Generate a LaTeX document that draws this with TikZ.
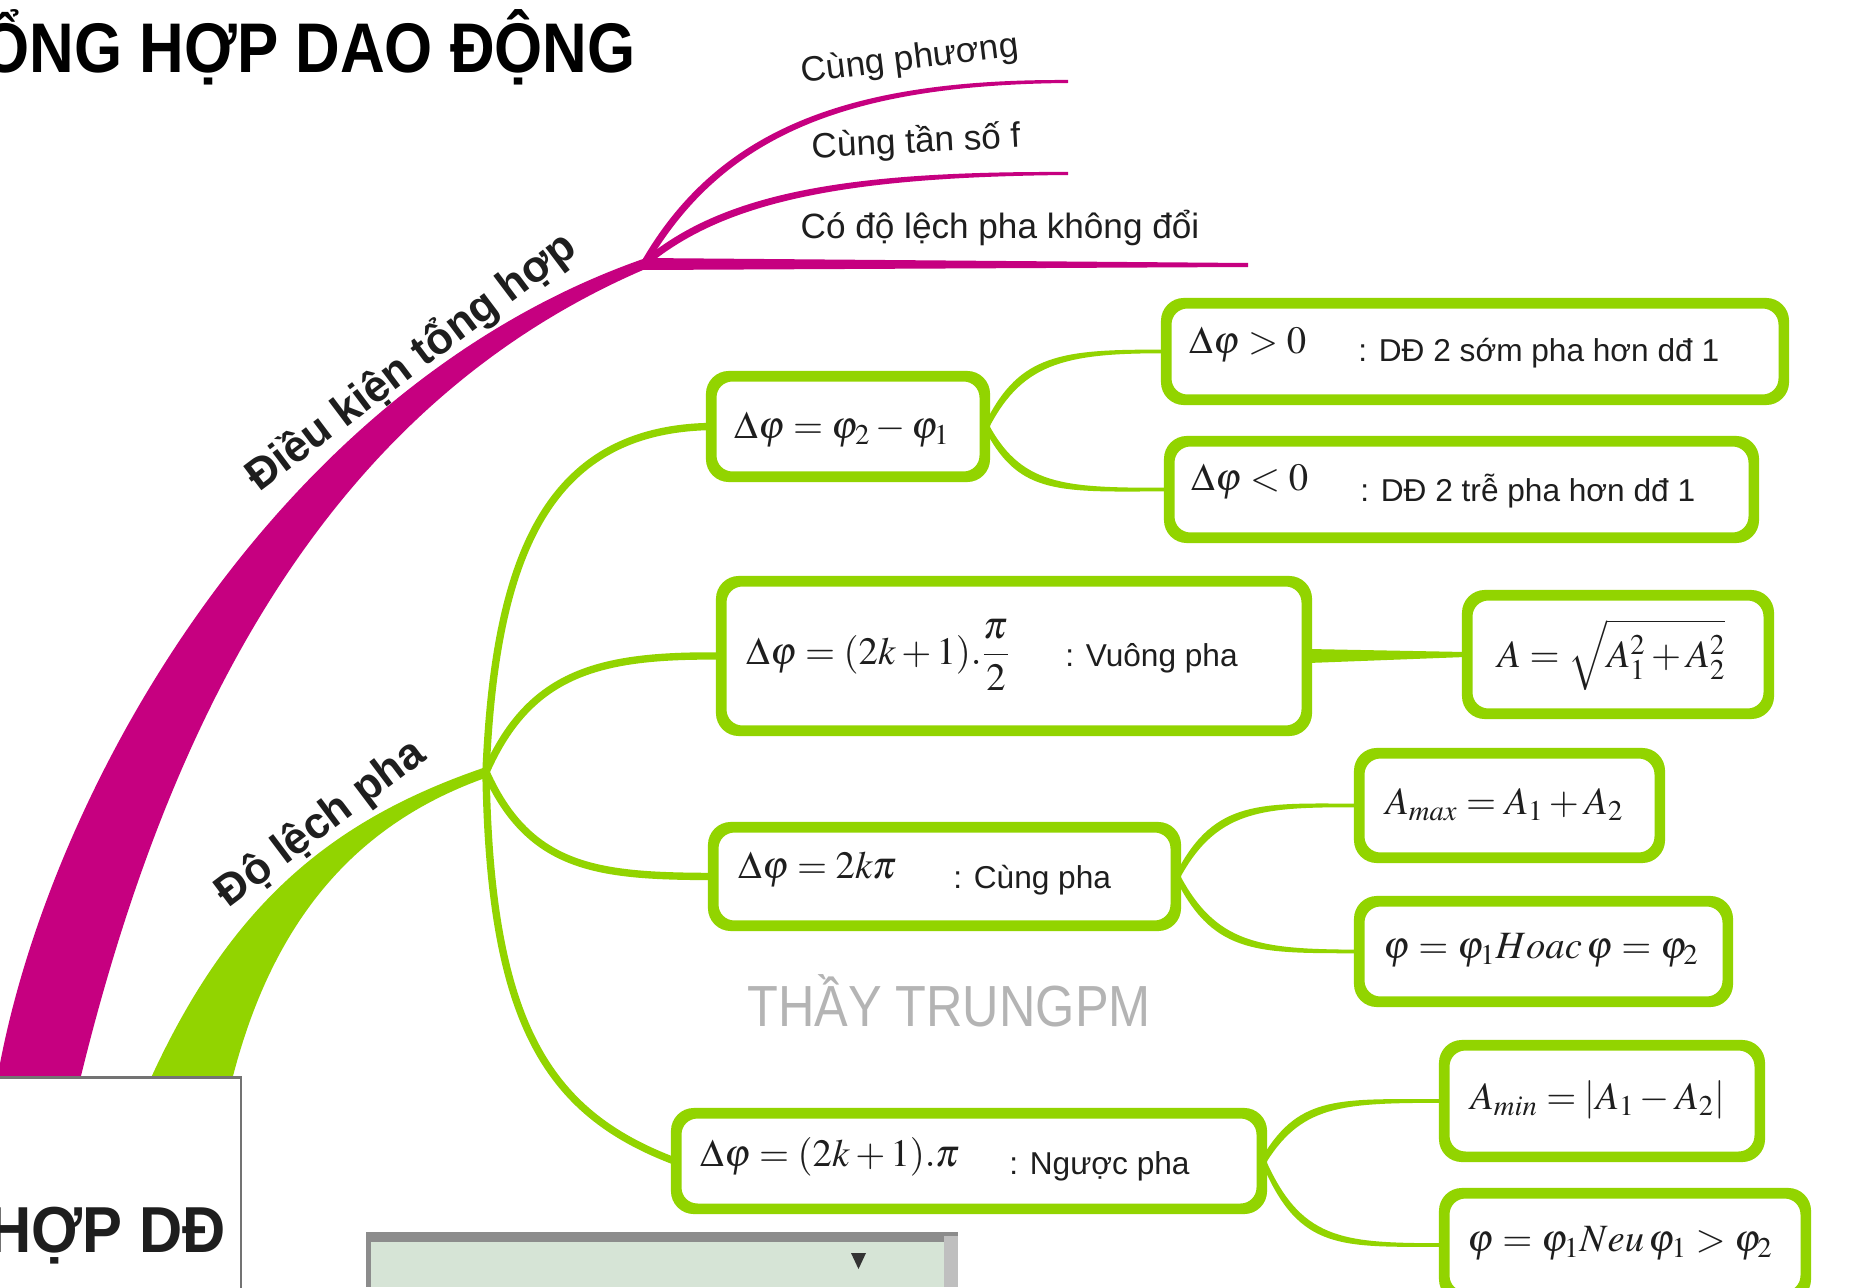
\documentclass[tikz,border=0pt]{standalone}
\usepackage{mathptmx}
\usepackage[no-math]{fontspec}
\setmainfont{Liberation Sans}
\usetikzlibrary{calc,fit}
\definecolor{mg}{RGB}{198,0,128}
\definecolor{gr}{RGB}{146,212,0}
\definecolor{ink}{RGB}{30,30,30}
\definecolor{wm}{RGB}{180,180,180}
\definecolor{panel}{RGB}{214,228,214}
\tikzset{
  box/.style={draw=gr, line width=4pt, rounded corners=11pt, fill=white, inner sep=0pt},
  rim/.style={draw=gr, line width=4pt, rounded corners=11pt},
  link/.style={draw=gr, line width=4.2pt},
  mth/.style={font=\fontsize{22}{22}\selectfont, anchor=west, inner sep=0pt, text=ink},
  lbl/.style={font=\fontsize{18}{18}\selectfont, anchor=west, inner sep=0pt, text=ink},
  twig/.style={font=\fontsize{20}{20}\selectfont, inner sep=0pt, text=ink},
  limb/.style={font=\bfseries\fontsize{25}{25}\selectfont, inner sep=0pt, text=ink},
}
% tapered green connector: from, control 1, control 2, to
\newcommand\taperlink[4]{%
  \fill[gr] ($(#1)+(0,-6)$) .. controls ($(#2)+(0,-5)$) and ($(#3)+(0,-2)$) .. ($(#4)+(0,-1.8)$)
    -- ($(#4)+(0,1.8)$) .. controls ($(#3)+(0,2)$) and ($(#2)+(0,5)$) .. ($(#1)+(0,6)$) -- cycle;
  \draw[gr, line width=1.6pt] (#1) .. controls (#2) and (#3) .. (#4);}
\begin{document}
\begin{tikzpicture}[x=0.02cm,y=-0.02cm]
\path[use as bounding box] (0,0) rectangle (1851,1287);
\clip (0,0) rectangle (1851,1287);
\fill[white] (0,0) rectangle (1851,1287);

% hubs
\coordinate (hm) at (643,264);
\coordinate (hg) at (486,772);

% magenta limb and its twigs
\fill[mg] (-3,1080) .. controls (45,800) and (270,390) .. ($(hm)+(0,-5)$)
  -- ($(hm)+(0,6)$) .. controls (343,400) and (175,690) .. (80,1080) -- cycle;
\fill[mg] ($(hm)+(-3,0)$) .. controls (717,128) and (850,79) .. (1068,80)
  -- (1068,83) .. controls (850,85) and (724,134) .. ($(hm)+(5,0)$) -- cycle;
\fill[mg] ($(hm)+(-2,-2)$) .. controls (722,192) and (850,171) .. (1068,172)
  -- (1068,175) .. controls (850,177) and (726,200) .. ($(hm)+(4,2)$) -- cycle;
\fill[mg] ($(hm)+(0,-6)$) -- (1248,263) -- (1248,267) -- ($(hm)+(0,6)$) -- cycle;

% green limb
\fill[gr] (150,1080) .. controls (230,905) and (330,820) .. ($(hg)+(0,-5)$)
  -- ($(hg)+(2,5)$) .. controls (365,820) and (275,910) .. (232,1080) -- cycle;

% central topic box
\node[draw=black!55, line width=1.7pt, fill=white, inner sep=0pt,
      fit={(-20,1077) (241,1330)}] (c) {};
\node[font=\bfseries\fontsize{37}{37}\selectfont, text=ink, anchor=base east,
      inner sep=0pt, xscale=0.92] (ct) at (226,1252) {HỢP DĐ};

% title
\node[font=\bfseries\fontsize{40}{40}\selectfont, text=black, anchor=base east,
      inner sep=0pt, xscale=0.88] (title) at (636,73) {ỔNG HỢP DAO ĐỘNG};

% boxes
\node[box, fit={(713,378) (983,475)}] (b1) {};
\node[box, fit={(723,583) (1305,729)}] (b2) {};
\node[box, fit={(715,829) (1174,924)}] (b3) {};
\node[box, fit={(678,1115) (1260,1207)}] (b4) {};
\node[box, fit={(1168,305) (1782,398)}] (b5) {};
\node[box, fit={(1171,443) (1752,536)}] (b6) {};
\node[box, fit={(1469,597) (1767,712)}] (b7) {};
\node[box, fit={(1361,755) (1658,856)}] (b8) {};
\node[box, fit={(1361,903) (1726,1000)}] (b9) {};
\node[box, fit={(1446,1047) (1758,1155)}] (b10) {};
\node[box, fit={(1446,1195) (1804,1295)}] (b11) {};

% connectors from the green hub
\draw[link] (hg) .. controls (495,560) and (545,430) .. (b1.west);
\draw[link] (hg) .. controls (530,672) and (600,655) .. (b2.west);
\draw[link] (hg) .. controls (530,870) and (600,876) .. (b3.west);
\draw[link] (hg) .. controls (490,1020) and (545,1112) .. (b4.west);

% connectors between boxes
\taperlink{b1.east}{1020,360}{1060,351}{b5.west}
\taperlink{b1.east}{1020,490}{1060,490}{b6.west}
\fill[gr] ($(b2.east)+(0,-7)$) -- ($(b7.west)+(0,-2.5)$) -- ($(b7.west)+(0,2.5)$) -- ($(b2.east)+(0,7)$) -- cycle;
\taperlink{b3.east}{1215,805}{1260,805}{b8.west}
\taperlink{b3.east}{1215,950}{1260,951}{b9.west}
\taperlink{b4.east}{1300,1100}{1340,1101}{b10.west}
\taperlink{b4.east}{1300,1245}{1340,1245}{b11.west}

% box outlines drawn again over the connector ends
\foreach \b in {b1,b2,b3,b4,b5,b6,b7,b8,b9,b10,b11}
  \draw[rim] (\b.south west) rectangle (\b.north east);

% limb labels
\node[limb, rotate=37] (l1) at (411,362) {Điều kiện tổng hợp};
\node[limb, rotate=37] (l2) at (321,824) {Độ lệch pha};
\node[twig, rotate=7] (t1) at (910,60) {Cùng phương};
\node[twig, rotate=3] (t2) at (916,143) {Cùng tần số f};
\node[twig] (t3) at (1000,228) {Có độ lệch pha không đổi};

% box contents
\node[mth] (m1) at (734,430) {$\Delta\varphi = \varphi_2 - \varphi_1$};
\node[mth] (m5) at (1189,345) {$\Delta\varphi > 0$};
\node[lbl] (s5) at (1358,353) {: DĐ 2 sớm pha hơn dđ 1};
\node[mth] (m6) at (1191,482) {$\Delta\varphi < 0$};
\node[lbl] (s6) at (1360,491) {: DĐ 2 trễ pha hơn dđ 1};
\node[mth] (m2) at (746,655) {$\Delta\varphi = (2k+1).\displaystyle\frac{\pi}{2}$};
\node[lbl] (s2) at (1065,658) {: Vuông pha};
\node[mth] (m7) at (1497,655) {$A = \sqrt{A_1^2 + A_2^2}$};
\node[mth] (m8) at (1385,805) {$A_{max} = A_1 + A_2$};
\node[mth] (m3) at (738,870) {$\Delta\varphi = 2k\pi$};
\node[lbl] (s3) at (953,880) {: Cùng pha};
\node[mth] (m9) at (1383,950) {$\varphi = \varphi_1 Hoac\, \varphi = \varphi_2$};
\node[mth] (m10) at (1470,1100) {$A_{min} = \left|A_1 - A_2\right|$};
\node[mth] (m4) at (700,1157) {$\Delta\varphi = (2k+1).\pi$};
\node[lbl] (s4) at (1009,1166) {: Ngược pha};
\node[mth] (m11) at (1467,1243) {$\varphi = \varphi_1 Neu\, \varphi_1 > \varphi_2$};

% watermark
\node[font=\fontsize{33}{33}\selectfont, text=wm, inner sep=0pt, xscale=0.87] (wmk) at (949,1001) {THẦY TRUNGPM};

% toolbar fragment at the bottom
\fill[black!45] (366,1232) rectangle (958,1287);
\fill[panel] (371,1242) rectangle (944,1287);
\fill[black!25] (944,1236) rectangle (958,1287);
\fill[black!80] (851,1253) -- (866,1253) -- (858.5,1269) -- cycle;
\end{tikzpicture}
\end{document}
